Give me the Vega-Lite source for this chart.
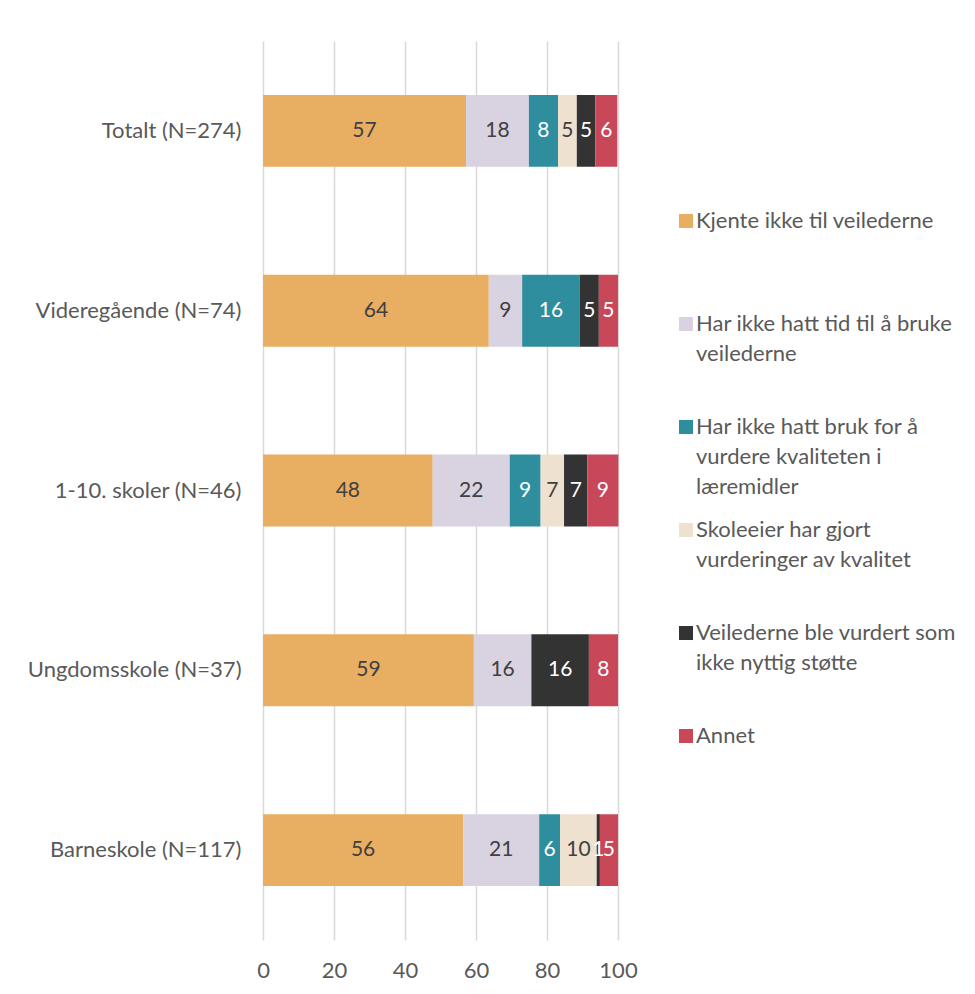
{
  "$schema": "https://vega.github.io/schema/vega-lite/v6.json",
  "width": 355,
  "height": 899,
  "autosize": {"type": "none"},
  "padding": {"left": 263, "top": 41, "right": 357, "bottom": 54},
  "background": "white",
  "config": {
    "view": {"stroke": null},
    "font": "Lato",
    "axis": {"labelFont": "Lato", "labelFontSize": 22, "labelColor": "#595959"},
    "style": {"guide-label": {"lineHeight": 30}}
  },
  "data": {
    "values": [
      {"group": "Totalt (N=274)", "category": "Kjente ikke til veilederne", "order": 1, "value": 57.2},
      {"group": "Totalt (N=274)", "category": "Har ikke hatt tid til å bruke veilederne", "order": 2, "value": 17.7},
      {"group": "Totalt (N=274)", "category": "Har ikke hatt bruk for å vurdere kvaliteten i læremidler", "order": 3, "value": 8.2},
      {"group": "Totalt (N=274)", "category": "Skoleeier har gjort vurderinger av kvalitet", "order": 4, "value": 5.3},
      {"group": "Totalt (N=274)", "category": "Veilederne ble vurdert som ikke nyttig støtte", "order": 5, "value": 5.2},
      {"group": "Totalt (N=274)", "category": "Annet", "order": 6, "value": 6.2},
      {"group": "Videregående (N=74)", "category": "Kjente ikke til veilederne", "order": 1, "value": 63.6},
      {"group": "Videregående (N=74)", "category": "Har ikke hatt tid til å bruke veilederne", "order": 2, "value": 9.4},
      {"group": "Videregående (N=74)", "category": "Har ikke hatt bruk for å vurdere kvaliteten i læremidler", "order": 3, "value": 16.2},
      {"group": "Videregående (N=74)", "category": "Veilederne ble vurdert som ikke nyttig støtte", "order": 5, "value": 5.4},
      {"group": "Videregående (N=74)", "category": "Annet", "order": 6, "value": 5.4},
      {"group": "1-10. skoler (N=46)", "category": "Kjente ikke til veilederne", "order": 1, "value": 47.8},
      {"group": "1-10. skoler (N=46)", "category": "Har ikke hatt tid til å bruke veilederne", "order": 2, "value": 21.7},
      {"group": "1-10. skoler (N=46)", "category": "Har ikke hatt bruk for å vurdere kvaliteten i læremidler", "order": 3, "value": 8.7},
      {"group": "1-10. skoler (N=46)", "category": "Skoleeier har gjort vurderinger av kvalitet", "order": 4, "value": 6.6},
      {"group": "1-10. skoler (N=46)", "category": "Veilederne ble vurdert som ikke nyttig støtte", "order": 5, "value": 6.6},
      {"group": "1-10. skoler (N=46)", "category": "Annet", "order": 6, "value": 8.7},
      {"group": "Ungdomsskole (N=37)", "category": "Kjente ikke til veilederne", "order": 1, "value": 59.4},
      {"group": "Ungdomsskole (N=37)", "category": "Har ikke hatt tid til å bruke veilederne", "order": 2, "value": 16.2},
      {"group": "Ungdomsskole (N=37)", "category": "Veilederne ble vurdert som ikke nyttig støtte", "order": 5, "value": 16.2},
      {"group": "Ungdomsskole (N=37)", "category": "Annet", "order": 6, "value": 8.2},
      {"group": "Barneskole (N=117)", "category": "Kjente ikke til veilederne", "order": 1, "value": 56.4},
      {"group": "Barneskole (N=117)", "category": "Har ikke hatt tid til å bruke veilederne", "order": 2, "value": 21.4},
      {"group": "Barneskole (N=117)", "category": "Har ikke hatt bruk for å vurdere kvaliteten i læremidler", "order": 3, "value": 5.9},
      {"group": "Barneskole (N=117)", "category": "Skoleeier har gjort vurderinger av kvalitet", "order": 4, "value": 10.3},
      {"group": "Barneskole (N=117)", "category": "Veilederne ble vurdert som ikke nyttig støtte", "order": 5, "value": 0.9},
      {"group": "Barneskole (N=117)", "category": "Annet", "order": 6, "value": 5.1}
    ]
  },
  "transform": [
    {"stack": "value", "groupby": ["group"], "sort": [{"field": "order", "order": "ascending"}], "as": ["v0", "v1"]},
    {"calculate": "(datum.v0 + datum.v1) / 2", "as": "mid"}
  ],
  "encoding": {
    "y": {
      "field": "group",
      "type": "nominal",
      "sort": ["Totalt (N=274)", "Videregående (N=74)", "1-10. skoler (N=46)", "Ungdomsskole (N=37)", "Barneskole (N=117)"],
      "scale": {"paddingInner": 0.6, "paddingOuter": 0.3},
      "axis": {"title": null, "ticks": false, "domain": false, "labelPadding": 22, "labelLimit": 300}
    }
  },
  "layer": [
    {
      "mark": {"type": "bar"},
      "encoding": {
        "x": {
          "field": "v0",
          "type": "quantitative",
          "scale": {"domain": [0, 100], "nice": false},
          "axis": {"title": null, "values": [0, 20, 40, 60, 80, 100], "ticks": false, "domain": false, "labelPadding": 20, "labelFlush": false, "grid": true, "gridColor": "#d9d9d9", "gridWidth": 1.5}
        },
        "x2": {"field": "v1"},
        "color": {
          "field": "category",
          "type": "nominal",
          "sort": ["Kjente ikke til veilederne", "Har ikke hatt tid til å bruke veilederne", "Har ikke hatt bruk for å vurdere kvaliteten i læremidler", "Skoleeier har gjort vurderinger av kvalitet", "Veilederne ble vurdert som ikke nyttig støtte", "Annet"],
          "scale": {
            "domain": ["Kjente ikke til veilederne", "Har ikke hatt tid til å bruke veilederne", "Har ikke hatt bruk for å vurdere kvaliteten i læremidler", "Skoleeier har gjort vurderinger av kvalitet", "Veilederne ble vurdert som ikke nyttig støtte", "Annet"],
            "range": ["#E8AE62", "#D9D2E0", "#2E8E9E", "#EEE1D0", "#333333", "#C8485A"]
          },
          "legend": {
            "orient": "none",
            "legendX": 412,
            "legendY": 169,
            "title": null,
            "padding": 0,
            "symbolType": "square",
            "symbolSize": 196,
            "symbolStrokeWidth": 0,
            "symbolOpacity": 1,
            "labelFont": "Lato",
            "labelFontSize": 22,
            "labelColor": "#595959",
            "labelLimit": 400,
            "labelOffset": -1,
            "rowPadding": 21,
            "gridAlign": "all",
            "labelExpr": "datum.label == 'Kjente ikke til veilederne' ? ['Kjente ikke til veilederne', '\u00a0', '\u00a0'] : datum.label == 'Har ikke hatt tid til å bruke veilederne' ? ['Har ikke hatt tid til å bruke', 'veilederne', '\u00a0'] : datum.label == 'Har ikke hatt bruk for å vurdere kvaliteten i læremidler' ? ['Har ikke hatt bruk for å', 'vurdere kvaliteten i', 'læremidler'] : datum.label == 'Skoleeier har gjort vurderinger av kvalitet' ? ['Skoleeier har gjort', 'vurderinger av kvalitet', '\u00a0'] : datum.label == 'Veilederne ble vurdert som ikke nyttig støtte' ? ['Veilederne ble vurdert som', 'ikke nyttig støtte', '\u00a0'] : [datum.label, '\u00a0', '\u00a0']"
          }
        }
      }
    },
    {
      "mark": {"type": "text", "font": "Lato", "fontSize": 21},
      "encoding": {
        "x": {"field": "mid", "type": "quantitative"},
        "text": {"field": "value", "type": "quantitative", "format": ".0f"},
        "color": {
          "condition": {"test": "indexof(['Har ikke hatt bruk for å vurdere kvaliteten i læremidler', 'Veilederne ble vurdert som ikke nyttig støtte', 'Annet'], datum.category) >= 0", "value": "white"},
          "value": "#404040"
        }
      }
    }
  ]
}
